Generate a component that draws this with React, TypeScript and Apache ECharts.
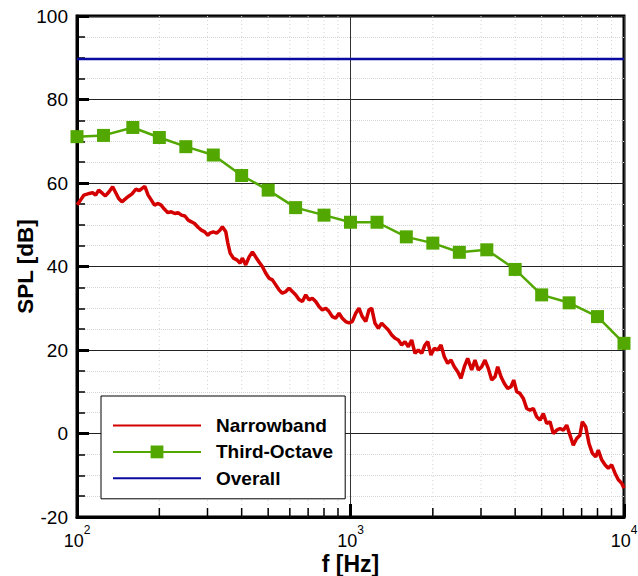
import React, { useEffect, useRef } from "react";
import * as echarts from "echarts";

// Third-octave band centre frequencies [Hz] and levels [dB]
const toFreq = [100, 125, 160, 200, 250, 315, 400, 500, 630, 800, 1000, 1250, 1600, 2000, 2500, 3150, 4000, 5000, 6300, 8000, 10000];
const toSpl = [71.1, 71.4, 73.3, 70.9, 68.7, 66.7, 61.8, 58.3, 54.1, 52.3, 50.6, 50.6, 47.1, 45.6, 43.4, 44.0, 39.3, 33.2, 31.3, 28.0, 21.6];

// Overall level [dB]
const overallSpl = 89.7;
const overallRange = [100, 10000];

// Narrowband spectrum, [frequency Hz, level dB]
const nbData: [number, number][] = [
  [100, 54.8], [101, 55.1], [103, 55.9], [106, 57.1], [111, 57.5], [114, 57.7], [117, 57.1], [120, 58.3],
  [124, 57.5], [127, 56.9], [131, 57.9], [135, 59.1], [139, 57.5], [142, 56.3], [146, 55.5], [151, 56.3],
  [155, 56.9], [159, 57.4], [164, 58.5], [169, 58.2], [173, 58.7], [177, 59.2], [182, 57.1], [187, 55.9],
  [192, 54.7], [198, 55.1], [203, 54.7], [209, 53.7], [215, 52.9], [221, 53.1], [228, 52.7], [234, 52.9],
  [241, 52.3], [248, 52.1], [255, 51.1], [262, 50.7], [269, 50.3], [277, 49.4], [285, 48.7], [293, 48.3],
  [301, 47.5], [306, 48.0], [315, 48.3], [324, 48.0], [333, 48.7], [340, 49.5], [350, 48.3], [356, 45.6],
  [363, 43.2], [373, 42.0], [384, 41.6], [395, 40.8], [402, 42.0], [414, 40.4], [426, 42.3], [438, 43.5],
  [450, 42.3], [463, 41.1], [476, 40.0], [490, 38.4], [504, 37.2], [518, 36.8], [533, 35.6], [548, 34.4],
  [563, 33.6], [580, 34.0], [596, 34.8], [613, 34.0], [631, 33.2], [648, 32.1], [667, 31.6], [686, 33.2],
  [705, 32.0], [725, 32.4], [746, 31.6], [767, 30.4], [789, 29.6], [812, 30.0], [835, 29.2], [858, 28.0],
  [883, 27.6], [908, 28.8], [933, 27.6], [960, 26.8], [987, 26.5], [1015, 26.8], [1045, 28.8], [1074, 30.0],
  [1104, 28.0], [1137, 26.8], [1168, 29.6], [1195, 30.0], [1229, 26.4], [1264, 25.2], [1300, 26.4], [1337, 25.6],
  [1375, 24.8], [1415, 23.6], [1455, 22.8], [1496, 22.4], [1539, 21.2], [1582, 22.0], [1627, 20.8], [1674, 22.4],
  [1721, 19.2], [1770, 20.0], [1821, 19.2], [1872, 21.2], [1916, 22.0], [1969, 18.8], [2025, 20.4], [2084, 20.0],
  [2142, 21.2], [2203, 18.4], [2267, 16.8], [2331, 17.6], [2396, 16.0], [2466, 14.8], [2535, 13.2], [2607, 16.0],
  [2682, 18.0], [2774, 15.2], [2852, 17.6], [2933, 15.2], [3018, 16.0], [3103, 17.6], [3190, 15.6], [3283, 12.8],
  [3376, 13.6], [3453, 16.0], [3551, 13.6], [3651, 12.0], [3757, 10.8], [3862, 11.2], [3951, 12.8], [4053, 10.0],
  [4166, 9.6], [4284, 8.4], [4408, 6.0], [4532, 5.6], [4660, 6.0], [4795, 4.0], [4931, 3.2], [5069, 4.8],
  [5217, 2.4], [5363, 2.8], [5514, 0.0], [5674, 0.8], [5834, 1.2], [5999, 0.8], [6173, 2.0], [6346, -0.4],
  [6525, -2.8], [6715, -1.2], [6903, -0.4], [7038, 2.8], [7244, 1.6], [7447, -2.4], [7657, -4.7], [7880, -5.6],
  [8054, -4.0], [8289, -6.3], [8521, -7.5], [8761, -8.3], [9015, -7.5], [9271, -9.5], [9534, -11.1], [9809, -11.9],
  [10000, -13.1],
];

// Minor tick positions on the log frequency axis
const minorFreq = [200, 300, 400, 500, 600, 700, 800, 900, 2000, 3000, 4000, 5000, 6000, 7000, 8000, 9000];

const yMin = -20;
const yMax = 100;
const yStep = 20;

const FONT = "'Liberation Sans', Arial, Helvetica, sans-serif";

export default function App() {
  const ref = useRef<HTMLDivElement>(null);

  useEffect(() => {
    if (!ref.current) return;
    const chart = echarts.init(ref.current, undefined, { renderer: "svg" });
    const option: any = {
      animation: false,
      backgroundColor: "#ffffff",
      textStyle: { fontFamily: FONT },
      grid: {
        left: 77,
        top: 16,
        right: 14,
        bottom: 59,
        containLabel: false,
        outerBoundsMode: "none",
        show: true,
        borderColor: "#000",
        borderWidth: 3,
        backgroundColor: "transparent",
      },
      legend: {
        left: 101,
        top: 396,
        orient: "vertical",
        backgroundColor: "#fff",
        borderColor: "#000",
        borderWidth: 1,
        borderRadius: 0,
        padding: [20, 12, 11, 11],
        itemWidth: 88,
        itemHeight: 16,
        itemGap: 7.4,
        selectedMode: false,
        data: [
          { name: "Narrowband", itemStyle: { opacity: 0 } },
          { name: "Third-Octave" },
          { name: "Overall", itemStyle: { opacity: 0 } },
        ],
        textStyle: {
          fontFamily: FONT,
          fontSize: 19,
          fontWeight: "bold",
          color: "#000",
          lineHeight: 16,
          padding: [0, 0, 0, 10],
        },
      },
      xAxis: {
        type: "log",
        logBase: 10,
        min: 100,
        max: 10000,
        name: "f [Hz]",
        nameLocation: "middle",
        nameGap: 35,
        nameMoveOverlap: false,
        nameTextStyle: { fontFamily: FONT, fontSize: 23, fontWeight: "bold", color: "#000" },
        axisLine: { show: true, onZero: false, lineStyle: { color: "#000", width: 3 } },
        axisTick: { show: true, inside: true, length: 13, lineStyle: { color: "#000", width: 3 } },
        minorTick: { show: false },
        splitLine: { show: true, lineStyle: { color: "#333", width: 1 } },
        axisLabel: {
          margin: 7,
          color: "#000",
          showMaxLabel: true,
          showMinLabel: true,
          formatter: (v: number) => `{n|10}{s|${Math.round(Math.log10(v))}}`,
          rich: {
            n: { fontFamily: FONT, fontSize: 18, color: "#000", lineHeight: 26, verticalAlign: "bottom" },
            s: { fontFamily: FONT, fontSize: 12, color: "#000", lineHeight: 10, verticalAlign: "top" },
          },
        },
      },
      yAxis: {
        type: "value",
        min: yMin,
        max: yMax,
        interval: yStep,
        name: "SPL [dB]",
        nameLocation: "middle",
        nameGap: 40,
        nameMoveOverlap: false,
        nameTextStyle: { fontFamily: FONT, fontSize: 22.5, fontWeight: "bold", color: "#000" },
        axisLine: { show: true, onZero: false, lineStyle: { color: "#000", width: 3 } },
        axisTick: { show: true, inside: true, length: 12, lineStyle: { color: "#000", width: 3 } },
        minorTick: { show: true, splitNumber: 4, length: 8, lineStyle: { color: "#000", width: 1.5 } },
        splitLine: { show: true, lineStyle: { color: "#222", width: 1 } },
        minorSplitLine: { show: true, lineStyle: { color: "#d4d4d4", width: 1, type: "dotted" } },
        axisLabel: { fontFamily: FONT, fontSize: 19, color: "#000", margin: 9 },
      },
      series: [
        {
          name: "minorTicks",
          type: "custom",
          data: minorFreq.map((f) => [f, yMin]),
          encode: { x: 0, y: 1 },
          silent: true,
          clip: false,
          z: 1,
          renderItem: (params: any, api: any) => {
            const f = api.value(0);
            const pb = api.coord([f, yMin]);
            const pt = api.coord([f, yMax]);
            return {
              type: "group",
              children: [
                {
                  type: "line",
                  shape: { x1: pb[0], y1: pt[1], x2: pb[0], y2: pb[1] },
                  style: { stroke: "#d4d4d4", lineWidth: 1, lineDash: [1, 3] },
                },
                {
                  type: "line",
                  shape: { x1: pb[0], y1: pb[1], x2: pb[0], y2: pb[1] - 9 },
                  style: { stroke: "#000", lineWidth: 1.5 },
                },
              ],
            };
          },
        },
        {
          name: "Narrowband",
          type: "line",
          data: nbData,
          symbol: "none",
          lineStyle: { color: "#d40000", width: 3.5 },
          itemStyle: { color: "#d40000" },
          z: 3,
        },
        {
          name: "Third-Octave",
          type: "line",
          data: toFreq.map((f, i) => [f, toSpl[i]]),
          symbol: "rect",
          symbolSize: 13,
          clip: false,
          lineStyle: { color: "#52a800", width: 2.5 },
          itemStyle: { color: "#52a800" },
          z: 4,
        },
        {
          name: "Overall",
          type: "line",
          data: overallRange.map((f) => [f, overallSpl]),
          symbol: "none",
          lineStyle: { color: "#0a0aa0", width: 2.5 },
          itemStyle: { color: "#0a0aa0" },
          z: 4,
        },
      ],
    };
    chart.setOption(option);
    return () => chart.dispose();
  }, []);

  return (
    <div
      ref={ref}
      style={{ position: "absolute", left: 0, top: 0, width: 638, height: 576 }}
    />
  );
}
